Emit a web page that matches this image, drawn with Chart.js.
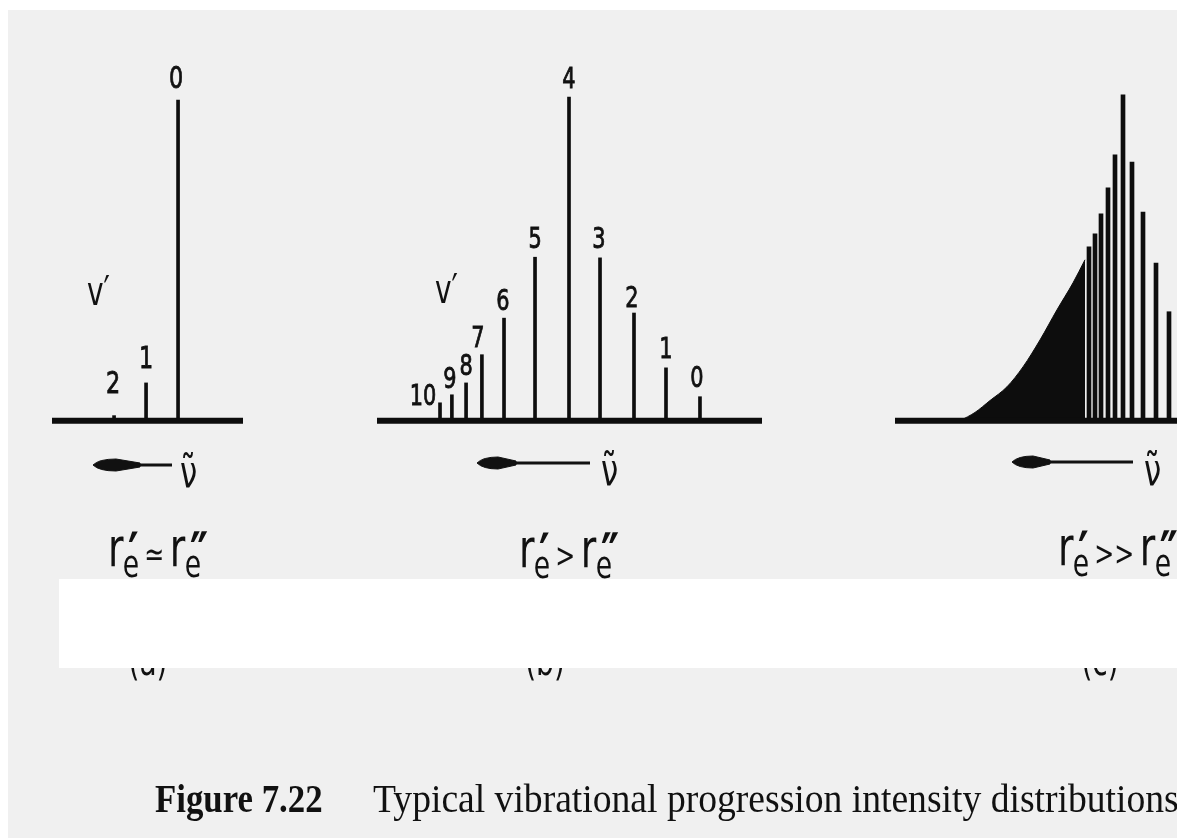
<!DOCTYPE html>
<html>
<head>
<meta charset="utf-8">
<script src="https://cdn.jsdelivr.net/npm/chart.js@4.4.1/dist/chart.umd.min.js"></script>
<style>
  html, body { margin: 0; padding: 0; background: #fff; }
  body { width: 1177px; height: 838px; position: relative; overflow: hidden; }
  #paper { position: absolute; left: 8px; top: 10px; right: 0; bottom: 0; background: #f0f0f0; }
  .panel { position: absolute; top: 60px; height: 380px; }
  .txt { position: absolute; font-family: "DejaVu Sans"; color: #111; line-height: 1; white-space: nowrap;
         transform: scaleX(0.7); transform-origin: 0 0; }
  .vp { font-size: 40px; }
  .nu { font-size: 44px; }
  .rl { font-size: 54px; }
  .rl .e { font-size: 38px; position: relative; top: 11px; margin-left: -1px; }
  .rl .p { font-size: 58px; font-weight: bold; position: relative; top: 8px; margin-left: -16px; }
  .rl .rel { font-size: 34px; margin: 0 8px 0 8px; }
  .tag { font-size: 40px; transform: translateX(-35%) scaleX(0.7); }
  #mask { position: absolute; left: 59px; top: 579px; right: 0; height: 89px; background: #fff; }
  .cap { position: absolute; top: 779px; font-family: "Liberation Serif"; font-size: 40px; line-height: 1; color: #111;
         white-space: nowrap; transform-origin: 0 0; }
</style>
</head>
<body>
<div id="paper"></div>

<div class="panel" style="left:52px;width:191px"><canvas id="panelA"></canvas></div>
<div class="panel" style="left:377px;width:385px"><canvas id="panelB"></canvas></div>
<div class="panel" style="left:895px;width:282px"><canvas id="panelC"></canvas></div>

<div class="txt vp" style="left:87px;top:271px">v′</div>
<div class="txt vp" style="left:435px;top:269px">v′</div>

<svg width="1177" height="838" style="position:absolute;left:0;top:0">
  <g fill="#111" stroke="#111">
    <line x1="125" y1="465" x2="172" y2="465" stroke-width="3"/>
    <path d="M93,465 Q99,459 116,459 L140,463 L140,467 L116,471 Q99,471 93,465 Z" stroke-width="1"/>
    <line x1="505" y1="463" x2="590" y2="463" stroke-width="3"/>
    <path d="M477,463 Q483,457 498,457 L516,461 L516,465 L498,469 Q483,469 477,463 Z" stroke-width="1"/>
    <line x1="1040" y1="462" x2="1133" y2="462" stroke-width="3"/>
    <path d="M1012,462 Q1018,456 1033,456 L1050,460 L1050,464 L1033,468 Q1018,468 1012,462 Z" stroke-width="1"/>
  </g>
</svg>

<div class="txt nu" style="left:180px;top:450px">ν̃</div>
<div class="txt nu" style="left:601px;top:448px">ν̃</div>
<div class="txt nu" style="left:1144px;top:448px">ν̃</div>

<div class="txt rl" style="left:108px;top:517px"><span class="r">r</span><span class="e">e</span><span class="p">′</span><span class="rel">≃</span><span class="r">r</span><span class="e">e</span><span class="p">″</span></div>
<div class="txt rl" style="left:519px;top:518px"><span class="r">r</span><span class="e">e</span><span class="p">′</span><span class="rel">&gt;</span><span class="r">r</span><span class="e">e</span><span class="p">″</span></div>
<div class="txt rl" style="left:1058px;top:516px"><span class="r">r</span><span class="e">e</span><span class="p">′</span><span class="rel">&gt;&gt;</span><span class="r">r</span><span class="e">e</span><span class="p">″</span></div>

<div class="txt tag" style="left:148px;top:641px">(a)</div>
<div class="txt tag" style="left:545px;top:641px">(b)</div>
<div class="txt tag" style="left:1100px;top:641px">(c)</div>
<div id="mask"></div>

<div class="cap" style="left:155px;font-weight:bold;transform:scaleX(0.87)">Figure 7.22</div>
<div class="cap" style="left:373px;transform:scaleX(0.94)">Typical vibrational progression intensity distributions</div>

<script>
// panel (a): r_e' ~ r_e''
const aLabels = ["0", "1", "2"];
const aPos = [0, -1, -2];
const aIntensity = [100, 11.8, 1.6];

// panel (b): r_e' > r_e''
const bLabels = ["0", "1", "2", "3", "4", "5", "6", "7", "8", "9", "10"];
const bPos = [0, -1.03, -2.0, -3.03, -3.97, -5.0, -5.94, -6.61, -7.09, -7.52, -7.88];
const bIntensity = [7.5, 16.5, 33.6, 50.8, 100.9, 51.0, 32.0, 20.6, 11.8, 8.1, 5.6];

// panel (c): r_e' >> r_e'' , discrete lines then continuum-like envelope
const cPos = [-3.4, -2.8, -2.2, -1.5, -0.8, 0, 0.9, 2.0, 3.3, 4.6];
const cIntensity = [54.2, 58.3, 64.5, 72.6, 82.9, 101.6, 80.7, 65.1, 49.2, 34.0];
const cEnvPos = [-16.3, -14.8, -13.3, -11.6, -10.0, -8.3, -6.6, -5.0, -3.8];
const cEnvIntensity = [0, 2.6, 6.3, 10.6, 16.8, 25.2, 34.6, 43.0, 50.2];

const ink = "#0d0d0d";

const peakLabels = {
  id: "peakLabels",
  afterDatasetsDraw(chart, args, opts) {
    if (!opts.labels) return;
    const ctx = chart.ctx;
    const bars = chart.getDatasetMeta(1).data;
    ctx.save();
    ctx.fillStyle = "#111";
    ctx.strokeStyle = "#111";
    ctx.lineWidth = 0.9;
    ctx.font = opts.size + "px 'DejaVu Sans'";
    ctx.textAlign = "center";
    bars.forEach(function (bar, i) {
      let shift = (opts.shift && opts.shift[i]) || [0, opts.lift];
      ctx.save();
      ctx.translate(bar.x + shift[0], bar.y - shift[1]);
      ctx.scale(0.72, 1);
      ctx.fillText(opts.labels[i], 0, 0);
      ctx.strokeText(opts.labels[i], 0, 0);
      ctx.restore();
    });
    ctx.restore();
  }
};

function pts(xs, ys) {
  return xs.map(function (x, i) { return { x: x, y: ys[i] }; });
}

function makePanel(id, xMin, xMax, pos, values, barWidth, labelOpts, extra) {
  let datasets = [
    {
      type: "line",
      data: [{ x: xMin, y: 0 }, { x: xMax, y: 0 }],
      borderColor: ink,
      borderWidth: 6,
      borderCapStyle: "round",
      pointRadius: 0,
      clip: false,
    },
    {
      type: "bar",
      data: pts(pos, values),
      backgroundColor: ink,
      barThickness: barWidth,
    },
  ];
  if (extra) datasets.push(extra);
  return new Chart(document.getElementById(id), {
    type: "bar",
    data: { datasets: datasets },
    options: {
      responsive: true,
      maintainAspectRatio: false,
      animation: false,
      layout: { padding: 0 },
      scales: {
        x: { type: "linear", min: xMin, max: xMax, offset: false, display: false },
        y: { min: -6, max: 112.5, display: false },
      },
      plugins: {
        legend: { display: false },
        tooltip: { enabled: false },
        peakLabels: labelOpts,
      },
    },
    plugins: [peakLabels],
  });
}

makePanel("panelA", -3.94, 2.03, aPos, aIntensity, 3, {
  labels: aLabels, size: 31, lift: 12,
  shift: [[-2, 12], [0, 15], [-1, 23]],
});

makePanel("panelB", -9.79, 1.88, bPos, bIntensity, 3, {
  labels: bLabels, size: 29, lift: 9,
  shift: [[-3, 10], [0, 10], [-2, 6], [-1, 10], [0, 9], [0, 9], [-1, 8], [-4, 8], [0, 8], [-2, 7], [-17, -2]],
});

makePanel("panelC", -22.8, 5.4, cPos, cIntensity, 4, {}, {
  type: "line",
  data: pts(cEnvPos, cEnvIntensity),
  borderColor: ink,
  backgroundColor: ink,
  borderWidth: 1,
  fill: "origin",
  pointRadius: 0,
  cubicInterpolationMode: "monotone",
});
</script>
</body>
</html>
